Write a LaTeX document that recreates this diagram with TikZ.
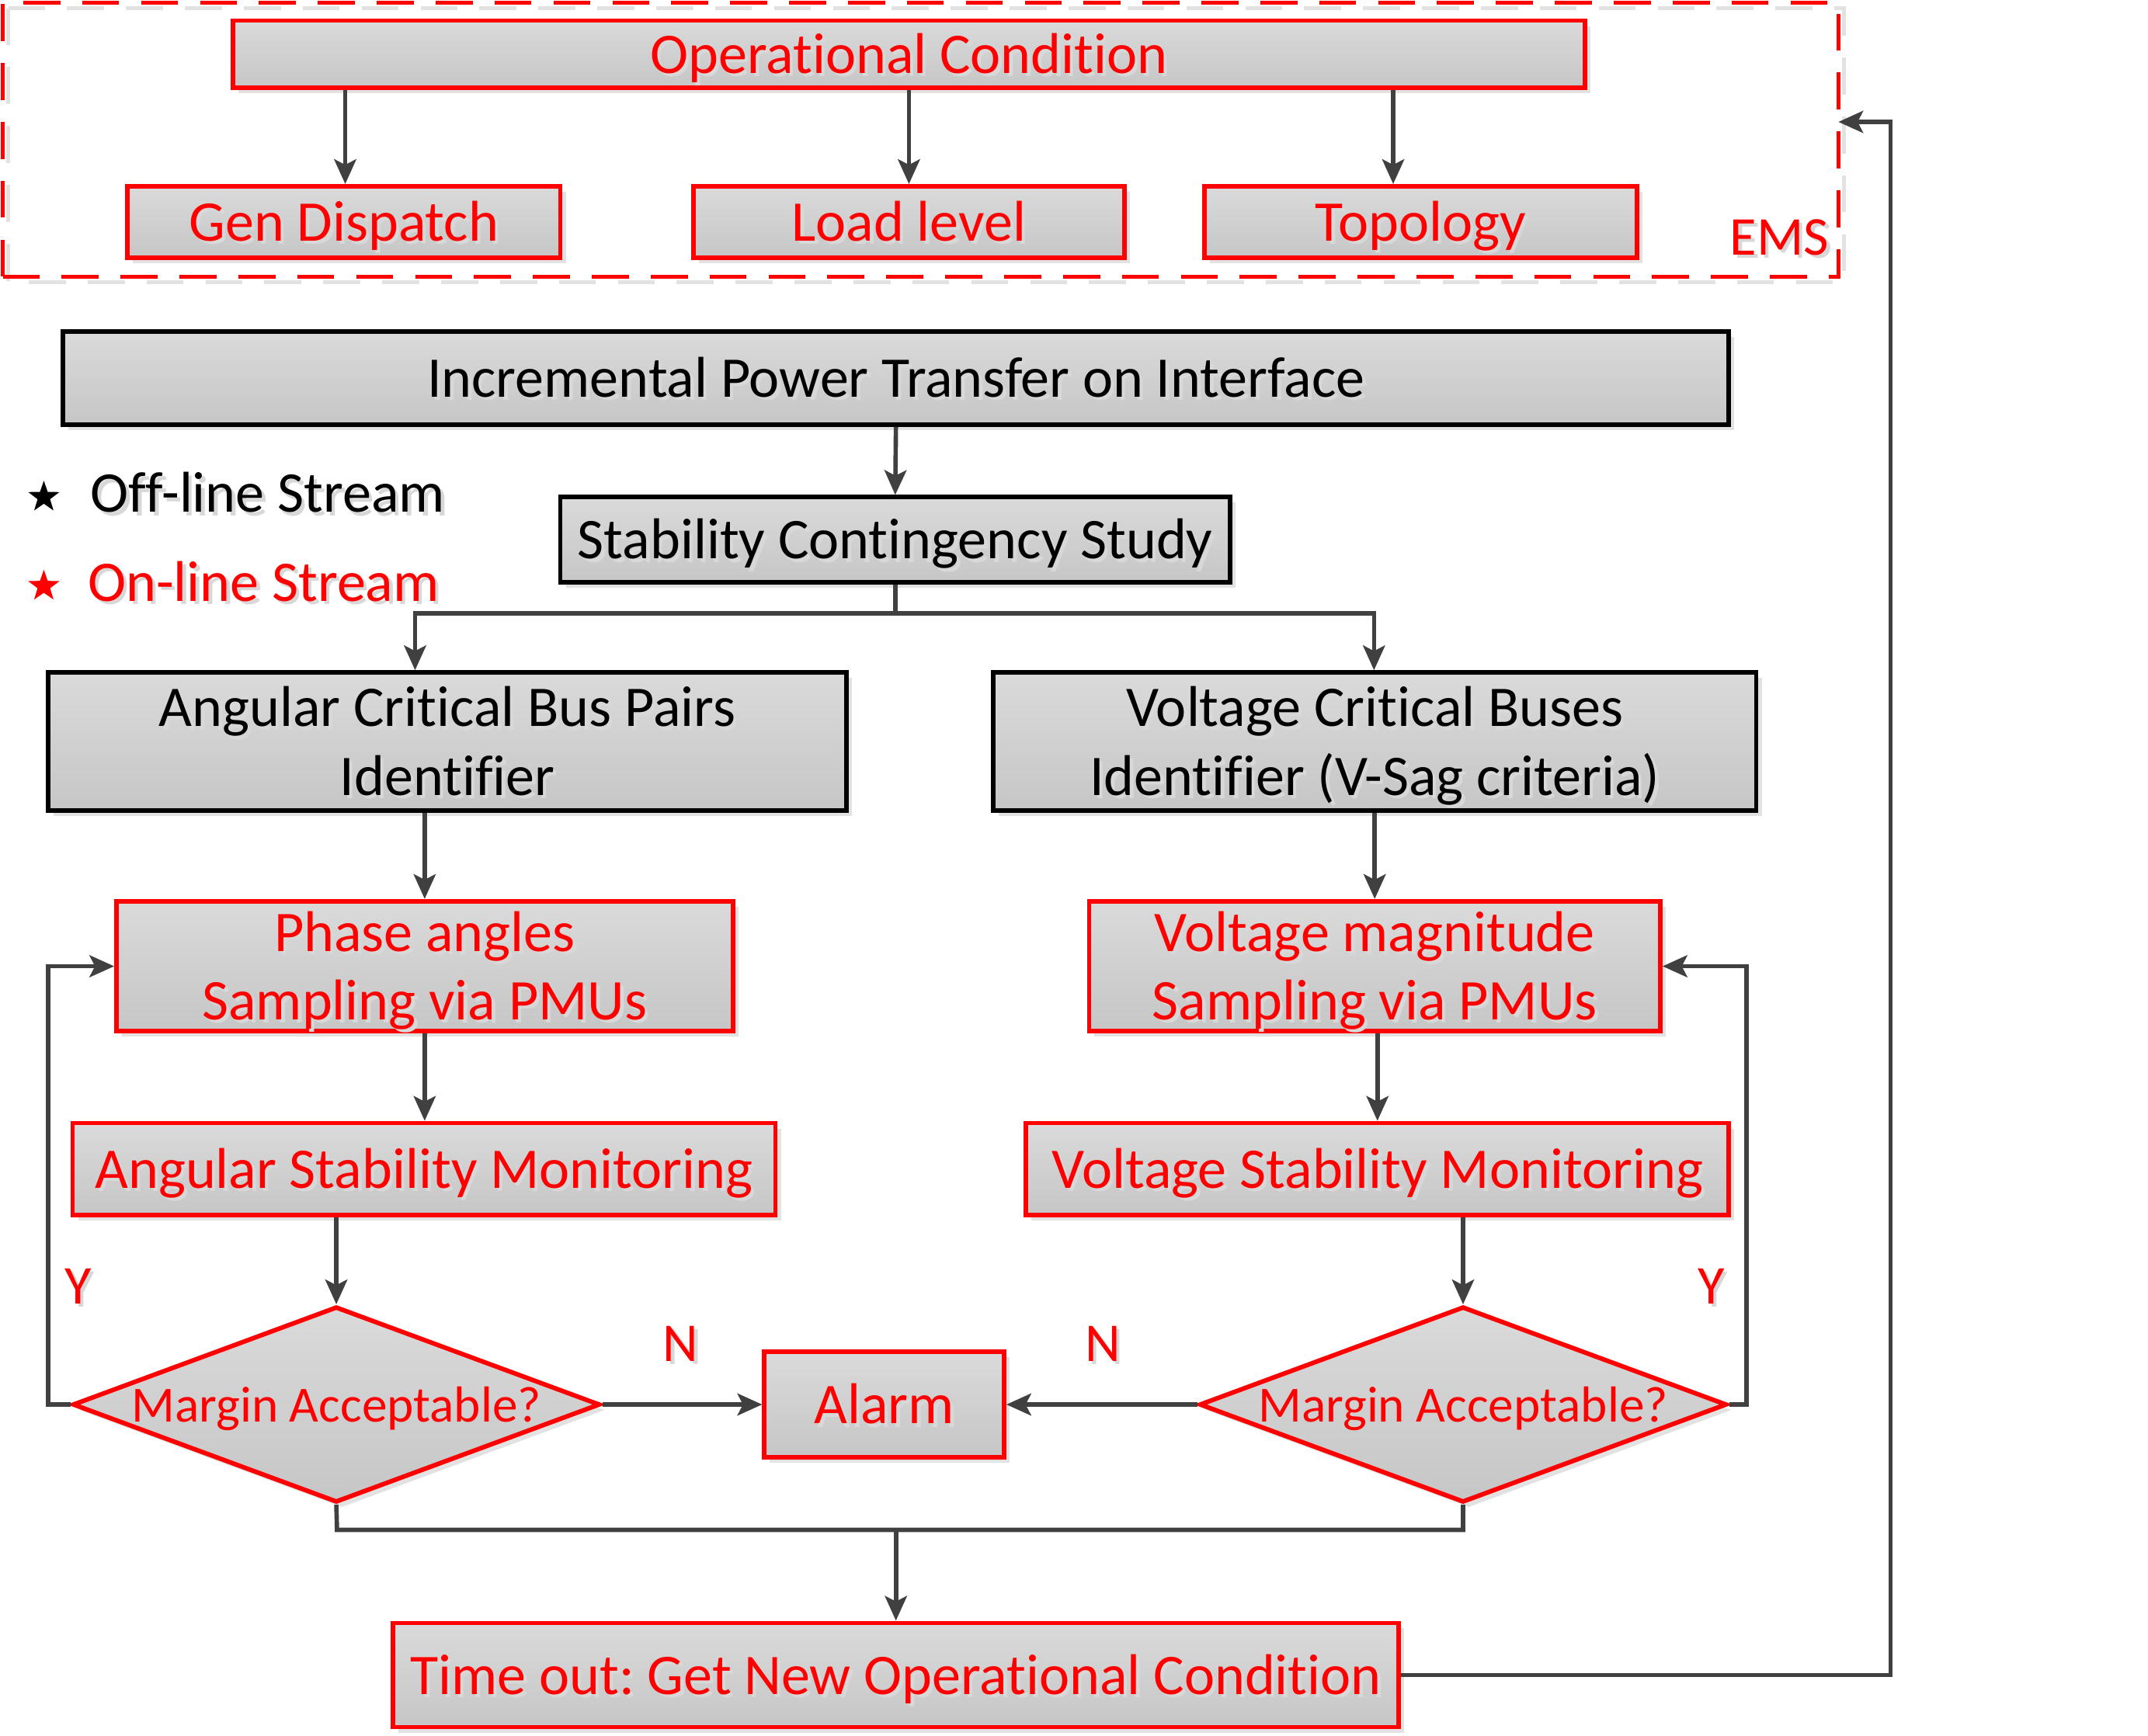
\documentclass[tikz,border=0pt]{standalone}
\usepackage{fontspec}
\setmainfont{Carlito}[Ligatures=NoCommon]
\usetikzlibrary{shapes.geometric,arrows.meta,shadows}
\definecolor{lg}{HTML}{404040}
\definecolor{rd}{HTML}{FF0000}
\definecolor{ftop}{HTML}{DADADA}
\definecolor{fbot}{HTML}{C6C6C6}
\definecolor{shd}{HTML}{E2E2E2}
\definecolor{tshd}{HTML}{D8D8D8}
\frenchspacing
% one line of text with a light text shadow, caps centred on the line box
\newcommand\shline[1]{\rule{0pt}{28pt}\smash{\rlap{\hspace{2.5pt}\raisebox{-2.5pt}{\color{tshd}#1}}#1}}
\tikzset{
  box/.style={rectangle, line width=3.3pt, top color=ftop, bottom color=fbot,
    drop shadow={shadow xshift=4pt, shadow yshift=-4pt, fill=shd, opacity=1},
    inner sep=0pt, align=center, font=\fontsize{42}{50}\selectfont},
  rbox/.style={box, draw=rd, text=rd},
  kbox/.style={box, draw=black, text=black},
  dia/.style={diamond, aspect=2.69, line width=3.3pt, top color=ftop, bottom color=fbot,
    drop shadow={shadow xshift=4pt, shadow yshift=-4pt, fill=shd, opacity=1},
    inner sep=0pt, draw=rd, text=rd, font=\fontsize{37}{40}\selectfont,
    minimum width=385pt, minimum height=143pt},
  conn/.style={draw=lg, line width=3.2pt},
  arr/.style={conn, -{Stealth[length=18pt,width=16pt,inset=4pt]}},
  lbl/.style={text=rd, inner sep=0pt, font=\fontsize{40}{44}\selectfont},
  legtext/.style={inner sep=0pt, anchor=west, font=\fontsize{42}{50}\selectfont},
  legstar/.style={star, star points=5, star point ratio=2.5, minimum size=24pt, inner sep=0pt}
}
\begin{document}
\begin{tikzpicture}[x=1pt,y=-1pt]
\useasboundingbox (0,0) rectangle (1568,1267);

% EMS dashed frame
\draw[shd, line width=3pt, dash pattern=on 27pt off 16pt] (6,6) rectangle (1346,206);
\node[draw=rd, line width=3pt, dash pattern=on 27pt off 16pt, minimum width=1340pt, minimum height=200pt, inner sep=0pt] (ems) at (672,102) {};
\node[lbl, font=\fontsize{40}{44}\selectfont] (emslbl) at (1299,172) {\shline{EMS}};

\node[rbox, minimum width=987pt, minimum height=49pt] (opc) at (663.5,39.5) {\shline{Operational Condition}};
\node[rbox, minimum width=316pt, minimum height=52pt] (gen) at (251,162) {\shline{Gen Dispatch}};
\node[rbox, minimum width=315pt, minimum height=52pt] (load) at (663.5,162) {\shline{Load level}};
\node[rbox, minimum width=316pt, minimum height=52pt] (topo) at (1037,162) {\shline{Topology}};

\node[kbox, minimum width=1216pt, minimum height=68pt] (ipt) at (654,276) {\shline{Incremental Power Transfer on Interface}};
\node[kbox, minimum width=489pt, minimum height=62pt] (scs) at (653.5,394) {\shline{Stability Contingency Study}};

\node[kbox, minimum width=583pt, minimum height=101pt] (acb) at (326.5,541.5) {\shline{Angular Critical Bus Pairs}\\\shline{Identifier}};
\node[kbox, minimum width=557pt, minimum height=101pt] (vcb) at (1003.5,541.5) {\shline{Voltage Critical Buses}\\\shline{Identifier (V-Sag criteria)}};

\node[rbox, minimum width=450pt, minimum height=95pt] (pa) at (310,705.5) {\shline{Phase angles}\\\shline{Sampling via PMUs}};
\node[rbox, minimum width=417pt, minimum height=95pt] (vm) at (1003.5,705.5) {\shline{Voltage magnitude}\\\shline{Sampling via PMUs}};

\node[rbox, minimum width=513pt, minimum height=67pt] (asm) at (309.5,853.5) {\shline{Angular Stability Monitoring}};
\node[rbox, minimum width=513pt, minimum height=67pt] (vsm) at (1005.5,853.5) {\shline{Voltage Stability Monitoring}};

\node[dia] (dl) at (245.5,1025.5) {\makebox[0pt]{\rule{0pt}{25pt}\smash{Margin Acceptable?}}};
\node[dia] (dr) at (1068,1025.5) {\makebox[0pt]{\rule{0pt}{25pt}\smash{Margin Acceptable?}}};
\node[rbox, minimum width=175pt, minimum height=77pt] (alarm) at (645.5,1025.5) {\shline{Alarm}};

\node[rbox, minimum width=734pt, minimum height=76pt] (to) at (654,1223) {\shline{Time out: Get New Operational Condition}};

% legend
\node[legstar, fill=black] (s1) at (32,363) {};
\node[legtext] (off) at (66,360) {\shline{Off-line Stream}};
\node[legstar, fill=rd] (s2) at (32,428) {};
\node[legtext, text=rd] (on) at (64,425) {\shline{On-line Stream}};

% labels
\node[lbl] (y1) at (57,938) {\shline{Y}};
\node[lbl] (y2) at (1249,938) {\shline{Y}};
\node[lbl] (n1) at (497,980) {\shline{N}};
\node[lbl] (n2) at (805,980) {\shline{N}};

% coordinates
\coordinate (c252) at (252,0);
\coordinate (c1017) at (1017,0);
\coordinate (jn) at (653.5,448);
\coordinate (xl) at (303,448);
\coordinate (xr) at (1003,448);
\coordinate (ylx) at (35,0);
\coordinate (yrx) at (1275,0);
\coordinate (bot) at (246,1117);
\coordinate (botr) at (1068,1117);
\coordinate (bm) at (654,1117);
\coordinate (rt) at (1380,0);
\coordinate (emsin) at (1342,89);

% connectors
\draw[arr] (opc.south -| c252) -- (gen.north -| c252);
\draw[arr] (opc.south -| load.north) -- (load.north);
\draw[arr] (opc.south -| c1017) -- (topo.north -| c1017);

\draw[arr] (ipt.south) -- (scs.north);
\draw[conn] (scs.south) -- (jn);
\draw[arr] (xr) -- (xl) -- (acb.north -| xl);
\draw[arr] (jn) -- (xr) -- (vcb.north -| xr);

\draw[arr] (acb.south -| pa.north) -- (pa.north);
\draw[arr] (vcb.south) -- (vm.north -| vcb.south);
\draw[arr] (pa.south) -- (asm.north -| pa.south);
\draw[arr] (vm.south -| vsm.north) -- (vsm.north);
\draw[arr] (asm.south -| dl.north) -- (dl.north);
\draw[arr] (vsm.south -| dr.north) -- (dr.north);

\draw[arr] (dl.east) -- (alarm.west);
\draw[arr] (dr.west) -- (alarm.east);

\draw[arr] (dl.west) -- (dl.west -| ylx) |- (pa.west);
\draw[arr] (dr.east) -- (dr.east -| yrx) |- (vm.east);

\draw[conn] (dl.south) -- (bot) -- (botr) -- (dr.south);
\draw[arr] (bm) -- (to.north);
\draw[arr] (to.east) -- (to.east -| rt) |- (emsin);
\end{tikzpicture}
\end{document}
